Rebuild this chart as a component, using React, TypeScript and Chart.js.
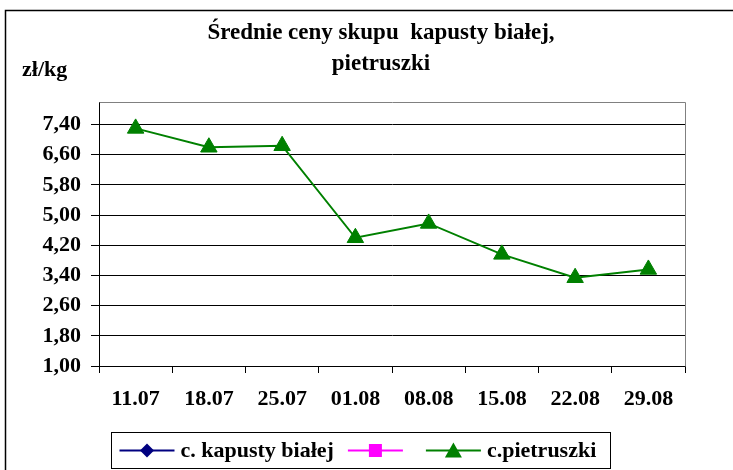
import React, { useEffect, useRef } from "react";
import { Chart, registerables } from "chart.js";

Chart.register(...registerables);

const categories = ["11.07", "18.07", "25.07", "01.08", "08.08", "15.08", "22.08", "29.08"];
const kapustaValues: (number | null)[] = [null, null, null, null, null, null, null, null];
const seria2Values: (number | null)[] = [null, null, null, null, null, null, null, null];
const pietruszkaValues: (number | null)[] = [7.3, 6.8, 6.84, 4.4, 4.78, 3.96, 3.34, 3.56];
const yTickValues = [1.0, 1.8, 2.6, 3.4, 4.2, 5.0, 5.8, 6.6, 7.4];

const seriesLabels = ["c. kapusty białej", "", "c.pietruszki"];
const titleLines = ["Średnie ceny skupu  kapusty białej,", "pietruszki"];
const unitLabel = "zł/kg";
const Y_MIN = 1;
const Y_MAX = 8;

const FONT_FAMILY = "'Liberation Serif', 'Times New Roman', serif";
const FONT = `bold 22px ${FONT_FAMILY}`;
const TITLE_FONT = `bold 23px ${FONT_FAMILY}`;

const decorPlugin = {
  id: "decor",
  beforeDraw(chart: any) {
    const ctx = chart.ctx;
    ctx.save();
    ctx.fillStyle = "#fff";
    ctx.fillRect(0, 0, chart.width, chart.height);
    ctx.strokeStyle = "#000";
    ctx.lineWidth = 1.5;
    ctx.beginPath();
    ctx.moveTo(5.5, chart.height + 5);
    ctx.lineTo(5.5, 10.5);
    ctx.lineTo(chart.width + 5, 10.5);
    ctx.stroke();
    ctx.fillStyle = "#000";
    ctx.font = TITLE_FONT;
    ctx.textAlign = "center";
    ctx.textBaseline = "alphabetic";
    ctx.fillText(titleLines[0], 381, 39);
    ctx.fillText(titleLines[1], 381, 70);
    ctx.font = FONT;
    ctx.textAlign = "left";
    ctx.fillText(unitLabel, 22, 76);
    ctx.restore();
  },
  beforeDatasetsDraw(chart: any) {
    const { ctx, chartArea } = chart;
    ctx.save();
    ctx.strokeStyle = "#808080";
    ctx.lineWidth = 1;
    ctx.beginPath();
    ctx.moveTo(Math.round(chartArea.left) + 0.5, Math.round(chartArea.top) + 0.5);
    ctx.lineTo(Math.round(chartArea.right) + 0.5, Math.round(chartArea.top) + 0.5);
    ctx.lineTo(Math.round(chartArea.right) + 0.5, Math.round(chartArea.bottom) + 0.5);
    ctx.stroke();
    ctx.restore();
  },
  afterDraw(chart: any) {
    const ctx = chart.ctx;
    const boxLeft = 111.5;
    const boxTop = 432.5;
    const boxH = 36;
    const cy = boxTop + boxH / 2;
    ctx.save();
    ctx.font = FONT;
    let x = boxLeft + 8;
    let lastEnd = x;
    const items: any[] = [];
    chart.data.datasets.forEach((ds: any) => {
      const lineStart = x;
      x += 55;
      const textX = x + 6;
      const tw = ds.label ? ctx.measureText(ds.label).width : 0;
      items.push({ ds, lineStart, textX });
      lastEnd = ds.label ? textX + tw : x;
      x = textX + tw + (ds.label ? 14 : 17);
    });
    const boxRight = lastEnd + 14;
    ctx.strokeStyle = "#000";
    ctx.lineWidth = 1;
    ctx.strokeRect(boxLeft, boxTop, Math.round(boxRight - boxLeft), boxH);
    items.forEach(({ ds, lineStart, textX }) => {
      const color = ds.borderColor;
      ctx.strokeStyle = color;
      ctx.fillStyle = color;
      ctx.lineWidth = 2;
      ctx.beginPath();
      ctx.moveTo(lineStart, cy);
      ctx.lineTo(lineStart + 55, cy);
      ctx.stroke();
      const mx = lineStart + 27.5;
      ctx.beginPath();
      if (ds.pointStyle === "rectRot") {
        ctx.moveTo(mx, cy - 7);
        ctx.lineTo(mx + 7, cy);
        ctx.lineTo(mx, cy + 7);
        ctx.lineTo(mx - 7, cy);
      } else if (ds.pointStyle === "rect") {
        ctx.rect(mx - 6.5, cy - 6.5, 13, 13);
      } else {
        ctx.moveTo(mx, cy - 8);
        ctx.lineTo(mx + 8.5, cy + 7);
        ctx.lineTo(mx - 8.5, cy + 7);
      }
      ctx.closePath();
      ctx.fill();
      if (ds.label) {
        ctx.fillStyle = "#000";
        ctx.textAlign = "left";
        ctx.textBaseline = "middle";
        ctx.fillText(ds.label, textX, cy + 1);
      }
    });
    ctx.restore();
  },
};

export default function App() {
  const ref = useRef<HTMLCanvasElement | null>(null);
  useEffect(() => {
    if (!ref.current) return;
    const tickFont = { family: FONT_FAMILY, size: 22, weight: "bold" as const };
    const chart = new Chart(ref.current, {
      type: "line",
      data: {
        labels: categories,
        datasets: [
          {
            label: seriesLabels[0],
            data: kapustaValues,
            borderColor: "#000080",
            backgroundColor: "#000080",
            borderWidth: 2,
            pointStyle: "rectRot",
            pointRadius: 7,
          },
          {
            label: seriesLabels[1],
            data: seria2Values,
            borderColor: "#FF00FF",
            backgroundColor: "#FF00FF",
            borderWidth: 2,
            pointStyle: "rect",
            pointRadius: 7,
          },
          {
            label: seriesLabels[2],
            data: pietruszkaValues,
            borderColor: "#008000",
            backgroundColor: "#008000",
            borderWidth: 2,
            pointStyle: "triangle",
            pointRadius: 9.5,
            pointBorderWidth: 1,
          },
        ],
      },
      options: {
        responsive: false,
        animation: false,
        devicePixelRatio: 1,
        layout: { padding: { left: 0, top: 102, right: 48, bottom: 64 } },
        plugins: {
          legend: { display: false },
          title: { display: false },
          tooltip: { enabled: false },
        },
        scales: {
          x: {
            type: "category",
            offset: true,
            grid: {
              offset: true,
              drawOnChartArea: false,
              drawTicks: true,
              tickLength: 7,
              color: "#000",
            },
            border: { color: "#000", width: 1 },
            ticks: { font: tickFont, color: "#000", padding: 13, maxRotation: 0, autoSkip: false },
            afterFit: (s: any) => {
              s.height = 40;
            },
          },
          y: {
            min: Y_MIN,
            max: Y_MAX,
            grid: { color: "#000", tickLength: 8, lineWidth: 1 },
            border: { color: "#000", width: 1 },
            ticks: {
              font: tickFont,
              color: "#000",
              padding: 10,
              callback: (v: any) => Number(v).toFixed(2).replace(".", ","),
            },
            afterBuildTicks: (s: any) => {
              s.ticks = yTickValues.map((v) => ({ value: v }));
            },
            afterFit: (s: any) => {
              s.width = 99;
            },
          },
        },
      },
      plugins: [decorPlugin],
    });
    return () => chart.destroy();
  }, []);
  return (
    <div style={{ position: "absolute", left: 0, top: 0, width: 733, height: 470 }}>
      <canvas ref={ref} width={733} height={470} style={{ display: "block" }} />
    </div>
  );
}
